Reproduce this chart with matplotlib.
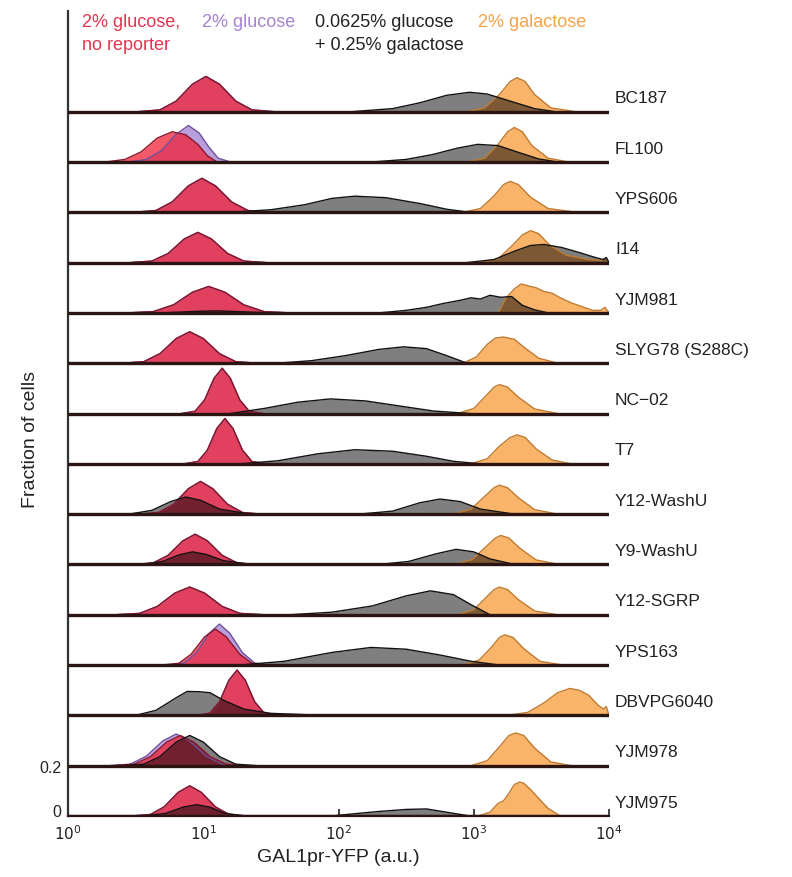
import numpy as np
import matplotlib
matplotlib.use("Agg")
import matplotlib.pyplot as plt
from matplotlib.transforms import ScaledTranslation

plt.rcParams['font.family'] = ['Liberation Sans', 'DejaVu Sans']

# strains, top to bottom
strains = ['BC187', 'FL100', 'YPS606', 'I14', 'YJM981', 'SLYG78 (S288C)', 'NC\u221202',
           'T7', 'Y12-WashU', 'Y9-WashU', 'Y12-SGRP', 'YPS163', 'DBVPG6040',
           'YJM978', 'YJM975']

# each curve: knots in log10(GAL1pr-YFP) and fraction of cells
red_lx = [
    [0.52, 0.68, 0.80, 0.92, 1.02, 1.12, 1.24, 1.36, 1.52],
    [0.28, 0.42, 0.54, 0.66, 0.77, 0.87, 0.96, 1.03, 1.10],
    [0.49, 0.65, 0.77, 0.89, 0.99, 1.09, 1.21, 1.33, 1.49],
    [0.46, 0.62, 0.74, 0.86, 0.96, 1.06, 1.18, 1.30, 1.46],
    [0.44, 0.63, 0.78, 0.92, 1.04, 1.16, 1.30, 1.45, 1.64],
    [0.40, 0.56, 0.68, 0.80, 0.90, 1.00, 1.12, 1.24, 1.40],
    [0.84, 0.94, 1.01, 1.08, 1.14, 1.20, 1.27, 1.34, 1.44],
    [0.86, 0.96, 1.03, 1.10, 1.16, 1.22, 1.29, 1.36, 1.46],
    [0.53, 0.67, 0.78, 0.89, 0.98, 1.07, 1.18, 1.29, 1.43],
    [0.49, 0.63, 0.74, 0.85, 0.94, 1.03, 1.14, 1.25, 1.39],
    [0.35, 0.53, 0.66, 0.79, 0.90, 1.01, 1.14, 1.27, 1.45],
    [0.69, 0.82, 0.91, 1.01, 1.09, 1.17, 1.27, 1.36, 1.49],
    [0.95, 1.05, 1.12, 1.19, 1.25, 1.31, 1.38, 1.45, 1.55],
    [0.33, 0.49, 0.61, 0.73, 0.83, 0.93, 1.05, 1.17, 1.33],
    [0.47, 0.61, 0.71, 0.815, 0.90, 0.985, 1.09, 1.19, 1.33],
]
red_y = [
    [0, .007, .042, .109, .140, .109, .042, .007, 0],
    [0, .010, .040, .095, .120, .108, .070, .025, 0],
    [0, .007, .041, .105, .135, .105, .041, .007, 0],
    [0, .006, .036, .094, .120, .094, .036, .006, 0],
    [0, .005, .032, .082, .105, .082, .032, .005, 0],
    [0, .006, .038, .098, .125, .098, .038, .006, 0],
    [0, .009, .054, .140, .180, .140, .054, .009, 0],
    [0, .009, .054, .140, .180, .140, .054, .009, 0],
    [0, .0065, .039, .101, .130, .101, .039, .0065, 0],
    [0, .006, .036, .094, .120, .094, .036, .006, 0],
    [0, .0055, .033, .086, .110, .086, .033, .0055, 0],
    [0, .007, .043, .112, .143, .112, .043, .007, 0],
    [0, .009, .054, .140, .180, .140, .054, .009, 0],
    [0, .006, .036, .094, .120, .094, .036, .006, 0],
    [0, .006, .036, .094, .120, .094, .036, .006, 0],
]

# 2% glucose sits under the no-reporter curve except in three strains
purple_lx = [list(v) for v in red_lx]
purple_y = [list(v) for v in red_y]
purple_lx[1] = [0.45, 0.58, 0.69, 0.80, 0.89, 0.97, 1.04, 1.11, 1.20]
purple_y[1] = [0, .010, .045, .110, .145, .115, .060, .015, 0]
purple_lx[11] = [0.74, 0.86, 0.95, 1.045, 1.12, 1.195, 1.29, 1.38, 1.50]
purple_y[11] = [0, .008, .049, .127, .163, .127, .049, .008, 0]
purple_lx[13] = [0.30, 0.46, 0.58, 0.70, 0.80, 0.90, 1.02, 1.14, 1.30]
purple_y[13] = [0, .006, .038, .098, .126, .098, .038, .006, 0]

gray_lx = [
    [2.10, 2.40, 2.60, 2.80, 2.97, 3.10, 3.25, 3.45, 3.60],
    [2.25, 2.50, 2.70, 2.88, 3.03, 3.18, 3.32, 3.48, 3.62],
    [1.20, 1.50, 1.75, 1.95, 2.12, 2.35, 2.60, 2.80, 2.97],
    [2.95, 3.15, 3.30, 3.42, 3.52, 3.65, 3.78, 3.90, 3.96, 3.98, 4.00],
    [0.70, 0.95, 1.10, 1.30, 1.50, 2.30, 2.50, 2.65, 2.78, 2.90, 2.98, 3.05,
     3.12, 3.20, 3.28, 3.36, 3.45, 3.55],
    [1.55, 1.80, 2.05, 2.30, 2.48, 2.65, 2.80, 2.95],
    [1.20, 1.45, 1.70, 1.94, 2.20, 2.45, 2.70, 2.97],
    [1.27, 1.55, 1.85, 2.12, 2.40, 2.65, 2.85, 3.05],
    [0.45, 0.62, 0.76, 0.87, 0.98, 1.12, 1.35, 2.15, 2.40, 2.60, 2.75, 2.90,
     3.05, 3.30],
    [0.55, 0.70, 0.82, 0.92, 1.02, 1.15, 1.35, 2.30, 2.52, 2.72, 2.87, 3.00,
     3.12, 3.30],
    [1.64, 1.95, 2.25, 2.50, 2.68, 2.85, 2.98, 3.12],
    [1.27, 1.60, 1.95, 2.24, 2.50, 2.75, 2.98, 3.19],
    [0.50, 0.65, 0.80, 0.88, 0.97, 1.05, 1.15, 1.30, 1.50, 1.90],
    [0.40, 0.56, 0.68, 0.80, 0.90, 1.00, 1.12, 1.24, 1.40],
    [0.55, 0.72, 0.85, 0.95, 1.05, 1.15, 1.30, 1.95, 2.10, 2.30, 2.50, 2.65,
     2.80, 2.97],
]
gray_y = [
    [0, .012, .035, .065, .077, .070, .045, .012, 0],
    [0, .010, .030, .055, .070, .065, .040, .012, 0],
    [0, .010, .030, .055, .064, .058, .035, .012, 0],
    [0, .012, .045, .068, .072, .060, .040, .020, .012, .020, 0],
    [0, .006, .008, .004, 0, 0, .010, .022, .038, .050, .060, .055, .070,
     .062, .065, .030, .012, 0],
    [0, .010, .030, .055, .065, .058, .030, 0],
    [0, .020, .045, .058, .050, .030, .010, 0],
    [0, .012, .040, .056, .050, .030, .010, 0],
    [0, .015, .050, .068, .055, .020, 0, 0, .012, .045, .060, .050, .020, 0],
    [0, .012, .038, .050, .040, .015, 0, 0, .012, .042, .060, .050, .022, 0],
    [0, .010, .035, .075, .095, .080, .040, 0],
    [0, .015, .050, .070, .063, .040, .015, 0],
    [0, .020, .070, .095, .094, .090, .060, .025, .008, 0],
    [0, .006, .036, .094, .120, .094, .036, .006, 0],
    [0, .010, .035, .045, .035, .012, 0, 0, .008, .018, .026, .028, .015, 0],
]

orange_lx = [
    [2.95, 3.08, 3.19, 3.27, 3.32, 3.38, 3.45, 3.57, 3.75],
    [2.95, 3.08, 3.18, 3.25, 3.30, 3.36, 3.43, 3.55, 3.70],
    [2.92, 3.05, 3.15, 3.22, 3.27, 3.33, 3.42, 3.55, 3.76],
    [3.05, 3.18, 3.28, 3.36, 3.42, 3.48, 3.56, 3.68, 3.85, 3.95, 3.98, 4.00],
    [3.18, 3.24, 3.30, 3.35, 3.40, 3.46, 3.52, 3.58, 3.64, 3.72, 3.80, 3.88,
     3.94, 3.97, 4.00],
    [2.92, 3.02, 3.10, 3.16, 3.22, 3.30, 3.38, 3.48, 3.62],
    [2.88, 3.00, 3.09, 3.15, 3.19, 3.25, 3.33, 3.45, 3.62],
    [2.98, 3.10, 3.19, 3.27, 3.32, 3.38, 3.46, 3.58, 3.72],
    [2.85, 2.98, 3.08, 3.15, 3.19, 3.25, 3.33, 3.45, 3.62],
    [2.86, 2.99, 3.09, 3.16, 3.20, 3.26, 3.34, 3.46, 3.63],
    [2.88, 3.00, 3.09, 3.15, 3.19, 3.25, 3.33, 3.45, 3.62],
    [2.92, 3.04, 3.13, 3.19, 3.23, 3.29, 3.37, 3.49, 3.66],
    [3.25, 3.40, 3.52, 3.62, 3.71, 3.78, 3.85, 3.92, 3.96, 3.98, 4.00],
    [2.98, 3.10, 3.19, 3.26, 3.31, 3.37, 3.45, 3.57, 3.72],
    [3.03, 3.12, 3.18, 3.22, 3.26, 3.30, 3.34, 3.37, 3.42, 3.48, 3.55, 3.64],
]
orange_y = [
    [0, .015, .068, .120, .135, .120, .068, .015, 0],
    [0, .015, .070, .120, .137, .120, .065, .015, 0],
    [0, .015, .065, .110, .123, .110, .060, .015, 0],
    [0, .015, .065, .110, .127, .115, .070, .030, .012, .010, .020, 0],
    [0, .060, .095, .115, .108, .100, .085, .078, .060, .040, .025, .010,
     .010, .022, 0],
    [0, .025, .075, .100, .104, .095, .060, .020, 0],
    [0, .020, .070, .105, .115, .105, .065, .018, 0],
    [0, .020, .070, .105, .115, .105, .060, .015, 0],
    [0, .020, .070, .105, .115, .105, .065, .018, 0],
    [0, .020, .070, .105, .115, .105, .065, .018, 0],
    [0, .020, .068, .100, .110, .100, .060, .015, 0],
    [0, .020, .070, .110, .120, .110, .065, .015, 0],
    [0, .012, .050, .090, .107, .100, .080, .040, .025, .035, 0],
    [0, .020, .075, .120, .130, .120, .070, .015, 0],
    [0, .015, .050, .060, .090, .125, .135, .130, .105, .070, .030, 0],
]

xticks = [1, 10, 100, 1000, 10000]
xticklabels = ['$10^0$', '$10^1$', '$10^2$', '$10^3$', '$10^4$']

fig = plt.figure(figsize=(7.92, 8.78), dpi=100)
ax = fig.add_axes([0.0859, 0.0695, 0.683, 0.9168])

step = 0.2
n = len(strains)

# drawing order: purple, red, orange, gray (gray translucent on top)
styles = [
    (purple_lx, purple_y, '#b9a0dc', 1.0, '#6e4f9a'),
    (red_lx, red_y, '#ef2235', 0.75, '#8a1526'),
    (orange_lx, orange_y, '#f9b469', 1.0, '#c07a30'),
    (gray_lx, gray_y, '#000000', 0.5, '#111111'),
]

for i in range(n):
    base = step * (n - 1 - i)
    for lxs, ys, fc, al, ec in styles:
        x = 10 ** np.array(lxs[i])
        y = base + np.array(ys[i])
        ax.fill_between(x, base, y, color=fc, alpha=al, lw=0, zorder=2)
        ax.plot(x, y, color=ec, lw=1.0, zorder=3)
    ax.axhline(base, color='#2a1512', lw=2.4, zorder=4)
    ax.text(1.011, (base + 0.055) / 3.2, strains[i], transform=ax.transAxes,
            fontsize=12.5, color='#222222', va='center', ha='left')

ax.set_xscale('log')
ax.set_xlim(1, 10000)
ax.set_ylim(0, 3.2)
ax.set_xticks(xticks)
ax.set_xticklabels(xticklabels)
ax.xaxis.set_minor_locator(matplotlib.ticker.NullLocator())
ax.set_yticks([0, 0.2])
ax.set_yticklabels(['0', '0.2'])
ax.tick_params(direction='in', length=5, width=1.2, labelsize=11.5, colors='#222222')
ax.tick_params(axis='x', pad=5, labelsize=11)
ax.tick_params(axis='y', pad=5)

# lift the "0" label a little off the x tick labels
lbl0 = ax.get_yticklabels()[0]
lbl0.set_transform(lbl0.get_transform() + ScaledTranslation(0, 4 / 72, fig.dpi_scale_trans))

for s in ['top', 'right']:
    ax.spines[s].set_visible(False)
ax.spines['left'].set_linewidth(1.6)
ax.spines['left'].set_color('#333333')
ax.spines['bottom'].set_linewidth(1.6)
ax.spines['bottom'].set_color('#2a1512')

# condition labels
ax.text(0.026, 3.16, '2% glucose,', transform=ax.get_yaxis_transform(),
        color='#e5344f', fontsize=13, va='center')
ax.text(0.026, 3.065, 'no reporter', transform=ax.get_yaxis_transform(),
        color='#e5344f', fontsize=13, va='center')
ax.text(0.248, 3.16, '2% glucose', transform=ax.get_yaxis_transform(),
        color='#a783cf', fontsize=13, va='center')
ax.text(0.457, 3.16, '0.0625% glucose', transform=ax.get_yaxis_transform(),
        color='#222222', fontsize=13, va='center')
ax.text(0.457, 3.065, '+ 0.25% galactose', transform=ax.get_yaxis_transform(),
        color='#222222', fontsize=13, va='center')
ax.text(0.758, 3.16, '2% galactose', transform=ax.get_yaxis_transform(),
        color='#f5a24a', fontsize=13, va='center')

fig.text(0.038, 0.499, 'Fraction of cells', rotation=90, ha='center', va='center',
         fontsize=14, color='#222222')
fig.text(0.427, 0.023, 'GAL1pr-YFP (a.u.)', ha='center', va='center',
         fontsize=14, color='#222222')

fig.savefig('out.png', dpi=100)
